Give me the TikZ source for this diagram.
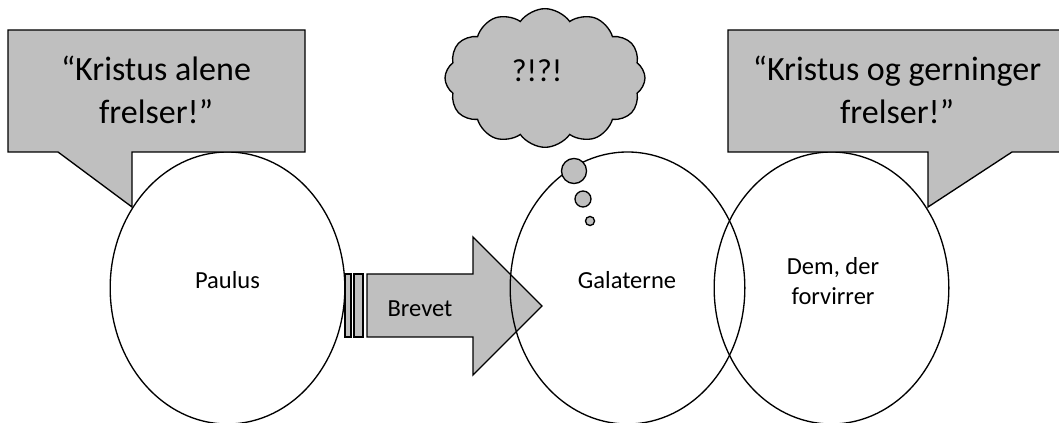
\documentclass[tikz,border=0pt]{standalone}
\usepackage{fontspec}
\setmainfont{Carlito}
\usetikzlibrary{shapes.geometric,shapes.symbols}

\definecolor{boxgray}{RGB}{191,191,191}
\tikzset{
	shout/.style={fill=boxgray, draw=black, line width=1pt, line join=miter},
	person/.style={ellipse, draw=black, line width=1pt, minimum width=176pt, minimum height=204pt, inner sep=0pt},
	lbl/.style={inner sep=0pt, font=\fontsize{18.4}{22.5}\selectfont, align=center},
	big/.style={inner sep=0pt, font=\fontsize{25.5}{32.3}\selectfont, align=center},
	bubble/.style={circle, fill=boxgray, draw=black, line width=1pt, inner sep=0pt}
}

\begin{document}
\begin{tikzpicture}[x=0.75pt, y=-0.75pt]
			%%%%% START %%%%%
			
			\clip (0, 0) rectangle (1059, 423);
			
			% the letter
			\draw[shout] (345, 274) rectangle (351, 337);
			\draw[shout] (354, 274) rectangle (363, 337);
			\draw[shout] (367, 274) -- (473, 274) -- (473, 237) -- (542, 306) -- (473, 375) -- (473, 337) -- (367, 337) -- cycle;
			\node[lbl, anchor=base] (brevet) at (420, 317) {Brevet};
			
			% the three parties
			\node[person] (paulus) at (227.5, 288) {};
			\node[person] (galaterne) at (627.5, 288) {};
			\node[person] (dem) at (831.5, 288) {};
			
			\node[lbl, anchor=base] (paulus label) at (227.5, 289) {Paulus};
			\node[lbl, anchor=base] (galaterne label) at (627, 289) {Galaterne};
			\node[lbl] (dem label) at (833, 281) {Dem, der\\forvirrer};
			
			% thought
			\node[cloud, cloud puffs=12, cloud puff arc=110, cloud ignores aspect, draw=black, fill=boxgray, line width=1pt, minimum width=150pt, minimum height=104pt] (sky) at (545, 78) {};
			\node[big, anchor=base, font=\fontsize{24}{30}\selectfont] (wonder) at (537, 82) {?!?!};
			
			\node[bubble, minimum size=18.8pt] (b1) at (574, 171) {};
			\node[bubble, minimum size=12pt] (b2) at (583, 199) {};
			\node[bubble, minimum size=6.8pt] (b3) at (590, 221) {};
			
			% what they say
			\draw[shout] (8, 30) -- (305, 30) -- (305, 152) -- (132, 152) -- (132, 207) -- (58, 152) -- (8, 152) -- cycle;
			\node[big] (alene) at (156, 90) {``Kristus alene\\frelser!''};
			
			\draw[shout] (728, 30) -- (1075, 30) -- (1075, 152) -- (1012, 152) -- (928, 207) -- (928, 152) -- (728, 152) -- cycle;
			\node[big] (gerninger) at (897, 90) {``Kristus og gerninger\\frelser!''};
			
			%%%%% END %%%%%
\end{tikzpicture}
\end{document}
